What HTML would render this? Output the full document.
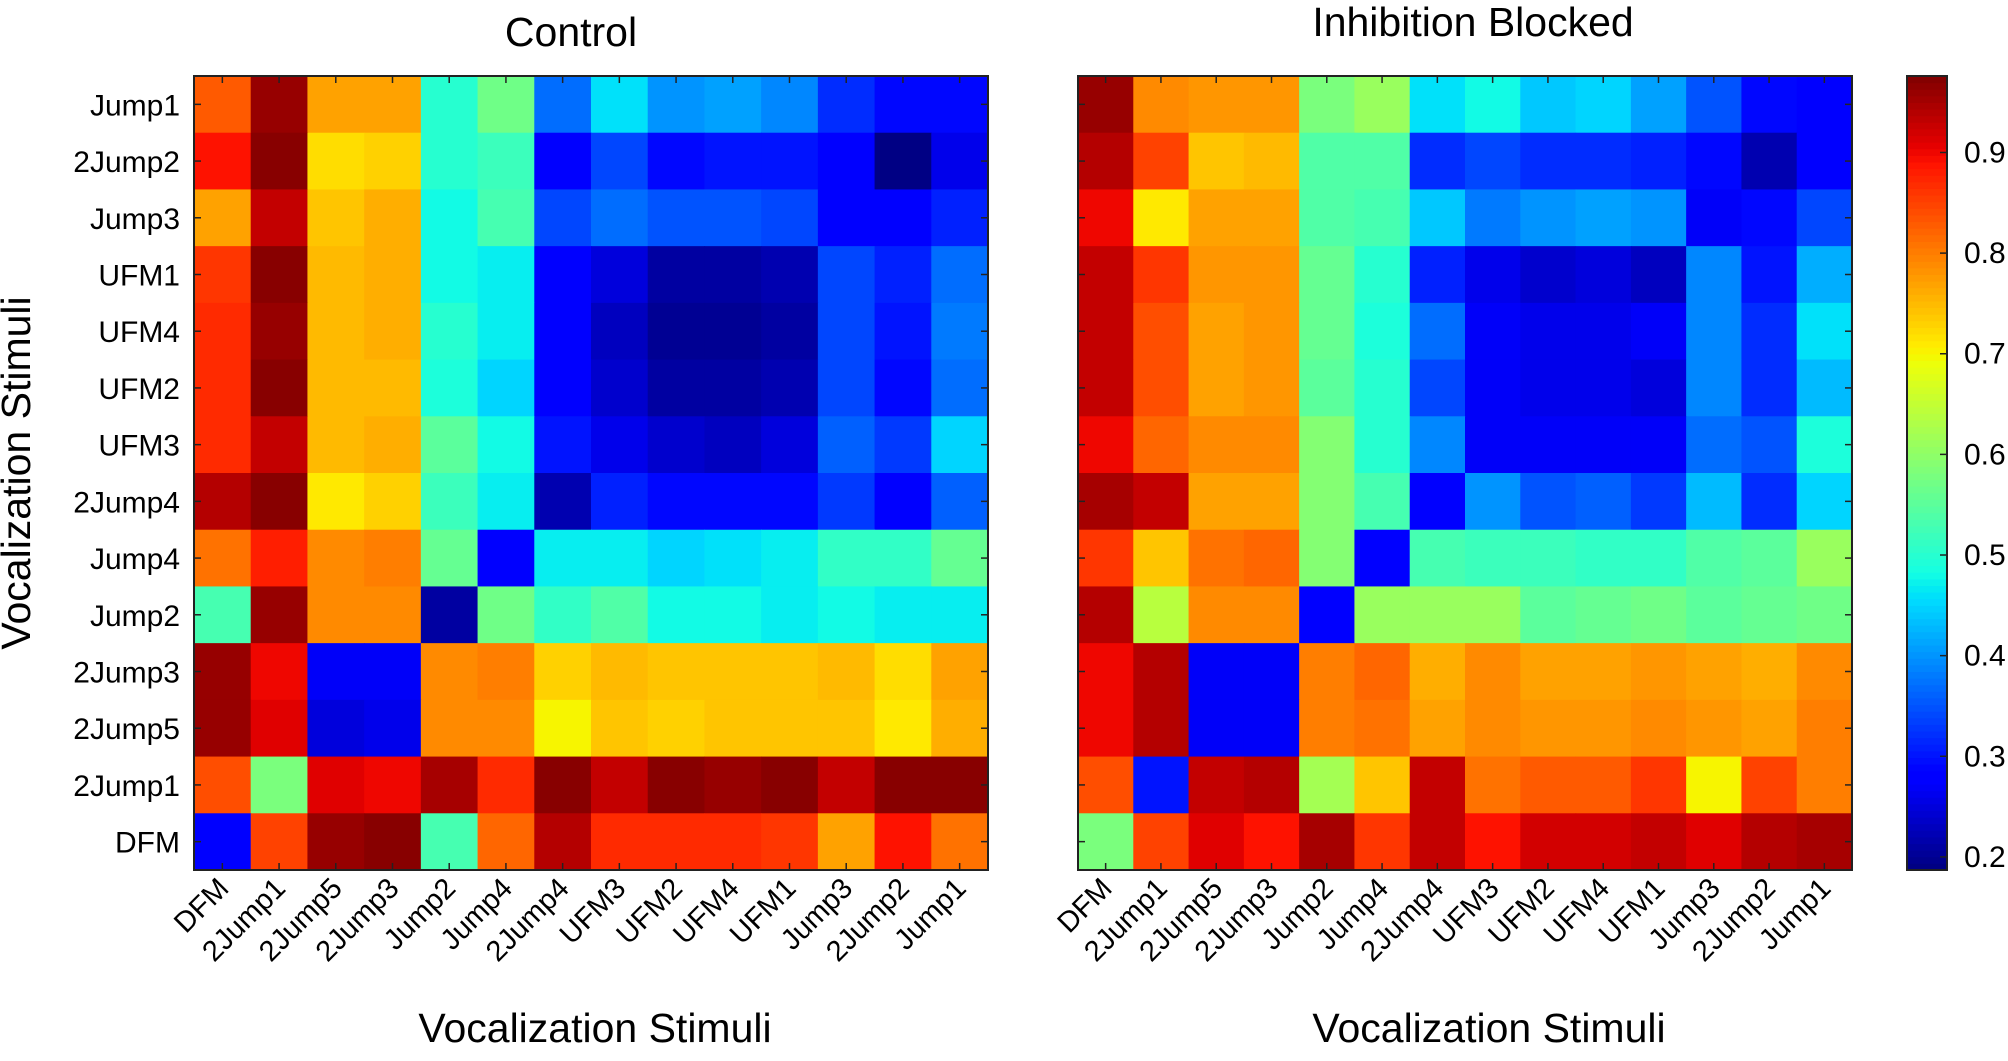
<!DOCTYPE html>
<html><head><meta charset="utf-8"><style>
body{margin:0;background:#fff;}
svg text{font-family:"Liberation Sans",Arial,sans-serif;fill:#000;}
</style></head><body>
<svg id="chart" width="2008" height="1056" viewBox="0 0 2008 1056" xmlns="http://www.w3.org/2000/svg"></svg>
<script>
const rowLabels = ["Jump1","2Jump2","Jump3","UFM1","UFM4","UFM2","UFM3","2Jump4","Jump4","Jump2","2Jump3","2Jump5","2Jump1","DFM"];
const colLabels = ["DFM","2Jump1","2Jump5","2Jump3","Jump2","Jump4","2Jump4","UFM3","UFM2","UFM4","UFM1","Jump3","2Jump2","Jump1"];
const colorTicks = [0.2,0.3,0.4,0.5,0.6,0.7,0.8,0.9];
const controlValues = [
[0.83,0.96,0.77,0.77,0.50,0.57,0.37,0.46,0.40,0.41,0.39,0.32,0.29,0.29],
[0.89,0.97,0.72,0.73,0.50,0.52,0.28,0.34,0.29,0.30,0.30,0.28,0.19,0.26],
[0.77,0.93,0.74,0.76,0.48,0.53,0.34,0.37,0.35,0.35,0.34,0.28,0.28,0.31],
[0.86,0.97,0.75,0.76,0.48,0.47,0.28,0.25,0.21,0.21,0.22,0.34,0.31,0.37],
[0.87,0.96,0.75,0.76,0.50,0.47,0.28,0.23,0.20,0.20,0.21,0.34,0.30,0.38],
[0.87,0.97,0.75,0.75,0.49,0.45,0.28,0.24,0.21,0.21,0.22,0.34,0.29,0.37],
[0.87,0.93,0.75,0.76,0.55,0.48,0.30,0.26,0.24,0.23,0.25,0.36,0.33,0.45],
[0.94,0.97,0.71,0.73,0.52,0.47,0.22,0.31,0.29,0.29,0.29,0.33,0.28,0.36],
[0.81,0.88,0.79,0.80,0.56,0.28,0.47,0.47,0.45,0.46,0.47,0.51,0.51,0.56],
[0.53,0.96,0.79,0.79,0.21,0.57,0.51,0.54,0.48,0.48,0.47,0.48,0.47,0.47],
[0.96,0.90,0.27,0.27,0.79,0.80,0.73,0.75,0.74,0.74,0.74,0.75,0.72,0.77],
[0.96,0.91,0.25,0.26,0.79,0.79,0.70,0.74,0.73,0.74,0.74,0.74,0.71,0.76],
[0.84,0.58,0.91,0.90,0.95,0.87,0.97,0.93,0.97,0.96,0.97,0.93,0.97,0.97],
[0.28,0.85,0.96,0.97,0.53,0.82,0.94,0.87,0.87,0.87,0.86,0.77,0.89,0.81]];
const blockedValues = [
[0.96,0.79,0.78,0.78,0.58,0.61,0.46,0.48,0.44,0.45,0.41,0.35,0.29,0.28],
[0.94,0.85,0.74,0.75,0.54,0.54,0.32,0.34,0.32,0.32,0.31,0.29,0.22,0.28],
[0.90,0.71,0.77,0.77,0.54,0.53,0.44,0.38,0.40,0.41,0.40,0.27,0.29,0.34],
[0.93,0.86,0.78,0.78,0.56,0.50,0.31,0.26,0.24,0.25,0.23,0.39,0.30,0.42],
[0.93,0.84,0.77,0.78,0.56,0.49,0.37,0.27,0.26,0.26,0.27,0.39,0.32,0.46],
[0.93,0.84,0.77,0.78,0.55,0.50,0.34,0.27,0.26,0.26,0.25,0.39,0.32,0.43],
[0.90,0.82,0.79,0.79,0.59,0.50,0.39,0.27,0.27,0.27,0.27,0.37,0.35,0.49],
[0.95,0.93,0.77,0.77,0.59,0.53,0.28,0.40,0.35,0.36,0.33,0.43,0.32,0.45],
[0.86,0.74,0.81,0.82,0.59,0.28,0.53,0.52,0.52,0.51,0.51,0.54,0.55,0.61],
[0.94,0.64,0.79,0.79,0.28,0.61,0.61,0.61,0.55,0.56,0.57,0.55,0.56,0.57],
[0.90,0.94,0.27,0.27,0.80,0.82,0.76,0.79,0.77,0.77,0.78,0.77,0.76,0.79],
[0.90,0.94,0.27,0.27,0.80,0.81,0.77,0.79,0.78,0.78,0.79,0.78,0.77,0.80],
[0.84,0.30,0.93,0.94,0.62,0.74,0.93,0.81,0.83,0.83,0.86,0.70,0.85,0.80],
[0.58,0.85,0.91,0.89,0.95,0.86,0.93,0.89,0.92,0.92,0.93,0.91,0.94,0.95]];

const VMIN=0.187, VMAX=0.976;
const NS="http://www.w3.org/2000/svg";
const svg=document.getElementById('chart');
function el(tag,attrs,parent){const e=document.createElementNS(NS,tag);for(const k in attrs)e.setAttribute(k,attrs[k]);(parent||svg).appendChild(e);return e;}
function seg(pts,t){for(let i=1;i<pts.length;i++){if(t<=pts[i][0]){const a=pts[i-1],b=pts[i];return a[1]+(b[1]-a[1])*(t-a[0])/(b[0]-a[0]);}}return pts[pts.length-1][1];}
const RS=[[0,0],[0.35,0],[0.66,1],[0.89,1],[1,0.5]];
const GS=[[0,0],[0.125,0],[0.375,1],[0.64,1],[0.91,0],[1,0]];
const BS=[[0,0.5],[0.11,1],[0.34,1],[0.65,0],[1,0]];
function jet(v){
  let t=(v-VMIN)/(VMAX-VMIN);t=Math.max(0,Math.min(1,t));
  const c=x=>Math.round(255*Math.max(0,Math.min(1,x)));
  return `rgb(${c(seg(RS,t))},${c(seg(GS,t))},${c(seg(BS,t))})`;
}
const TOP=76,BOT=870;
function panel(vals,x0,x1,name,title,titleX,titleY,xTitleX,showRows){
  const g=el('g',{});
  
  
  const n=colLabels.length, m=rowLabels.length;
  const cw=(x1-x0)/n, ch=(BOT-TOP)/m;
  const xs=i=>x0+i*cw, ys=j=>TOP+j*ch;
  vals.forEach((row,j)=>row.forEach((v,i)=>{
    const r=el('rect',{x:xs(i),y:ys(j),width:cw+0.6,height:ch+0.6,fill:jet(v)},g);
    
    
  }));
  el('rect',{x:x0,y:TOP,width:x1-x0,height:BOT-TOP,fill:'none',stroke:'#222','stroke-width':2},g);
  for(let i=0;i<n;i++){const cx=xs(i)+cw/2;
    el('line',{x1:cx,x2:cx,y1:TOP,y2:TOP+7,stroke:'#222','stroke-width':1.5},g);
    el('line',{x1:cx,x2:cx,y1:BOT,y2:BOT-7,stroke:'#222','stroke-width':1.5},g);
    const t=el('text',{x:cx+8,y:BOT+20,'font-size':29,'text-anchor':'end',transform:`rotate(-45 ${cx+8} ${BOT+20})`},g);
    t.textContent=colLabels[i];
    
    
  }
  for(let j=0;j<m;j++){const cy=ys(j)+ch/2;
    el('line',{x1:x0,x2:x0+7,y1:cy,y2:cy,stroke:'#222','stroke-width':1.5},g);
    el('line',{x1:x1,x2:x1-7,y1:cy,y2:cy,stroke:'#222','stroke-width':1.5},g);
    if(showRows){const t=el('text',{x:x0-14,y:cy+11,'font-size':30,'text-anchor':'end'},g);
      t.textContent=rowLabels[j];
      
      }
  }
  const tt=el('text',{x:titleX,y:titleY,'font-size':41,'text-anchor':'middle'},g);
  tt.textContent=title;
  
  
  const xl=el('text',{x:xTitleX,y:1042,'font-size':41,'text-anchor':'middle'},g);
  xl.textContent='Vocalization Stimuli';
  
  
}
panel(controlValues,194,988,'control-heatmap','Control',571,46,595,true);
panel(blockedValues,1078,1852,'inhibition-blocked-heatmap','Inhibition Blocked',1473,36,1489,false);
const yl=el('text',{x:30,y:473,'font-size':41,'text-anchor':'middle',transform:'rotate(-90 30 473)'});
yl.textContent='Vocalization Stimuli';


const cb=el('g',{});


const CX0=1907,CX1=1947;
const cy=v=>BOT-(v-VMIN)/(VMAX-VMIN)*(BOT-TOP);
const steps=120;
for(let k=0;k<steps;k++){const v0=VMIN+(VMAX-VMIN)*k/steps, v1=VMIN+(VMAX-VMIN)*(k+1)/steps;
  el('rect',{x:CX0,y:cy(v1),width:CX1-CX0,height:cy(v0)-cy(v1)+0.5,fill:jet((v0+v1)/2)},cb);}
el('rect',{x:CX0,y:TOP,width:CX1-CX0,height:BOT-TOP,fill:'none',stroke:'#222','stroke-width':2},cb);
colorTicks.forEach(v=>{const y=cy(v);
  el('line',{x1:CX1-7,x2:CX1,y1:y,y2:y,stroke:'#222','stroke-width':1.5},cb);
  const t=el('text',{x:1964,y:y+10,'font-size':30},cb);
  t.textContent=v.toFixed(1);
  
  
});
</script>
</body></html>
